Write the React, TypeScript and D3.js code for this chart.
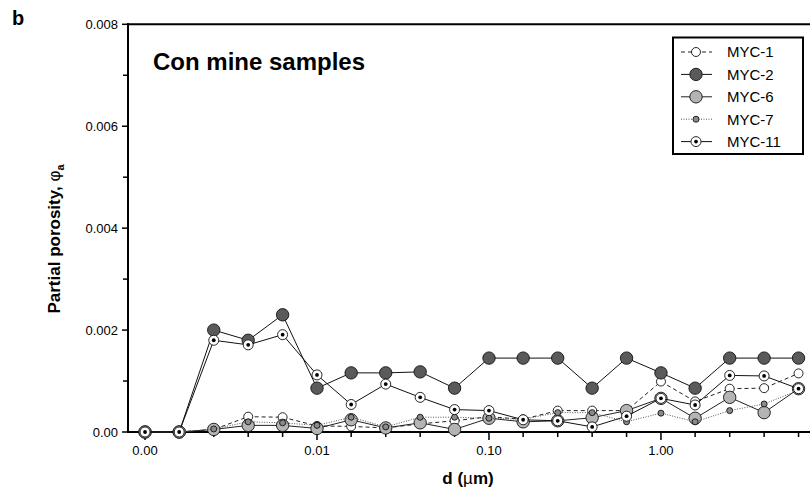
import React from "react";
import * as d3 from "d3";

// pore diameter classes, µm (0.2 decade steps)
const diam = [0.001, 0.00158, 0.00251, 0.00398, 0.00631, 0.01, 0.0158, 0.0251, 0.0398, 0.0631,
  0.1, 0.158, 0.251, 0.398, 0.631, 1, 1.58, 2.51, 3.98, 6.31];

// partial porosity, units of 1e-3
const myc1 = [0, 0, 0.05, 0.30, 0.29, 0.12, 0.11, 0.08, 0.16, 0.22, 0.30, 0.25, 0.42, 0.42, 0.42, 0.99, 0.60, 0.85, 0.86, 1.15];
const myc2 = [0, 0, 2.0, 1.8, 2.3, 0.86, 1.16, 1.16, 1.18, 0.86, 1.45, 1.45, 1.45, 0.86, 1.45, 1.16, 0.86, 1.45, 1.45, 1.45];
const myc6 = [0, 0, 0.05, 0.13, 0.13, 0.07, 0.24, 0.08, 0.18, 0.05, 0.27, 0.20, 0.22, 0.28, 0.42, 0.66, 0.27, 0.68, 0.38, 0.85];
const myc7 = [0, 0, 0.06, 0.20, 0.18, 0.13, 0.29, 0.10, 0.29, 0.29, 0.27, 0.25, 0.38, 0.38, 0.20, 0.37, 0.20, 0.42, 0.55, 0.82];
const myc11 = [0, 0, 1.80, 1.71, 1.91, 1.12, 0.54, 0.94, 0.68, 0.44, 0.42, 0.24, 0.22, 0.10, 0.31, 0.66, 0.53, 1.11, 1.10, 0.85];

const xMajor = [0.001, 0.01, 0.1, 1];
const xLabels = ["0.00", "0.01", "0.10", "1.00"];
const yMajor = [0, 0.002, 0.004, 0.006, 0.008];
const yLabels = ["0.00", "0.002", "0.004", "0.006", "0.008"];
const yMinor = [0.001, 0.003, 0.005, 0.007];

const FONT = "'Liberation Sans', Arial, Helvetica, sans-serif";

type Series = {
  name: string; values: number[]; r: number; fill: string;
  dash?: string; lineColor: string; dot?: boolean;
};

const series: Series[] = [
  { name: "MYC-1", values: myc1, r: 4.5, fill: "#fff", dash: "4,3", lineColor: "#222" },
  { name: "MYC-2", values: myc2, r: 6.2, fill: "#5a5a5a", lineColor: "#111" },
  { name: "MYC-6", values: myc6, r: 6.2, fill: "#b4b4b4", lineColor: "#222" },
  { name: "MYC-7", values: myc7, r: 3, fill: "#8a8a8a", dash: "1,1.5", lineColor: "#555" },
  { name: "MYC-11", values: myc11, r: 5, fill: "#fff", lineColor: "#111", dot: true },
];

const App = () => {
  const x = d3.scaleLog().domain([Math.pow(10, -3.099), Math.pow(10, 0.855)]).range([128, 808]);
  const y = d3.scaleLinear().domain([0, 0.008]).range([432, 24.3]);
  const line = d3.line<number>()
    .x((_, i) => x(diam[i]))
    .y(v => y(v / 1000));

  const marker = (s: Series, cx: number, cy: number, key: string | number) => (
    <g key={key}>
      <circle cx={cx} cy={cy} r={s.r} fill={s.fill} stroke="#111" strokeWidth={0.9} />
      {s.dot && <circle cx={cx} cy={cy} r={1.9} fill="#000" />}
    </g>
  );

  return (
    <svg width={812} height={489} style={{ position: "absolute", left: 0, top: 0, background: "#fff" }}
      fontFamily={FONT}>
      <text x={12} y={25} fontSize={20} fontWeight="bold">b</text>

      {/* frame */}
      <line x1={127} x2={810} y1={24.3} y2={24.3} stroke="#000" strokeWidth={2} />
      <line x1={128} x2={128} y1={23.3} y2={433} stroke="#000" strokeWidth={2} />
      <line x1={127} x2={810} y1={432} y2={432} stroke="#000" strokeWidth={2} />

      {/* y ticks */}
      {yMajor.map((t, i) => (
        <g key={"ym" + i}>
          <line x1={122} x2={128} y1={y(t)} y2={y(t)} stroke="#000" strokeWidth={1.5} />
          <text x={118} y={y(t)} dy="0.35em" textAnchor="end" fontSize={13}>{yLabels[i]}</text>
        </g>
      ))}
      {yMinor.map((t, i) => (
        <line key={"yn" + i} x1={123} x2={128} y1={y(t)} y2={y(t)} stroke="#000" strokeWidth={1.5} />
      ))}

      {/* x ticks */}
      {diam.map((t, i) => (
        <line key={"xn" + i} x1={x(t)} x2={x(t)} y1={432} y2={xMajor.includes(t) ? 440 : 437}
          stroke="#000" strokeWidth={1.5} />
      ))}
      {xMajor.map((t, i) => (
        <text key={"xl" + i} x={x(t)} y={455} textAnchor="middle" fontSize={13}>{xLabels[i]}</text>
      ))}

      <text x={468} y={484} textAnchor="middle" fontSize={17} fontWeight="bold">
        d (<tspan fontWeight="normal">µ</tspan>m)
      </text>
      <text transform="translate(60,239) rotate(-90)" textAnchor="middle" fontSize={17} fontWeight="bold">
        Partial porosity, <tspan fontWeight="normal">φ</tspan><tspan fontSize={11} dy={4}>a</tspan>
      </text>

      <text x={153} y={69.5} fontSize={24} fontWeight="bold">Con mine samples</text>

      {/* series */}
      {series.map(s => (
        <g key={s.name}>
          <path d={line(s.values) || ""} fill="none" stroke={s.lineColor} strokeWidth={1}
            strokeDasharray={s.dash} />
          {s.values.map((v, i) => marker(s, x(diam[i]), y(v / 1000), i))}
        </g>
      ))}

      {/* legend */}
      <rect x={673} y={37.5} width={130} height={116.5} fill="#fff" stroke="#000" strokeWidth={2} />
      {series.map((s, i) => {
        const ly = 52 + i * 22.4;
        return (
          <g key={"lg" + s.name}>
            <line x1={681} x2={712} y1={ly} y2={ly} stroke={s.lineColor} strokeWidth={1}
              strokeDasharray={s.dash} />
            {marker(s, 696, ly, "m")}
            <text x={727} y={ly} dy="0.36em" fontSize={15}>{s.name}</text>
          </g>
        );
      })}
    </svg>
  );
};

export default App;
